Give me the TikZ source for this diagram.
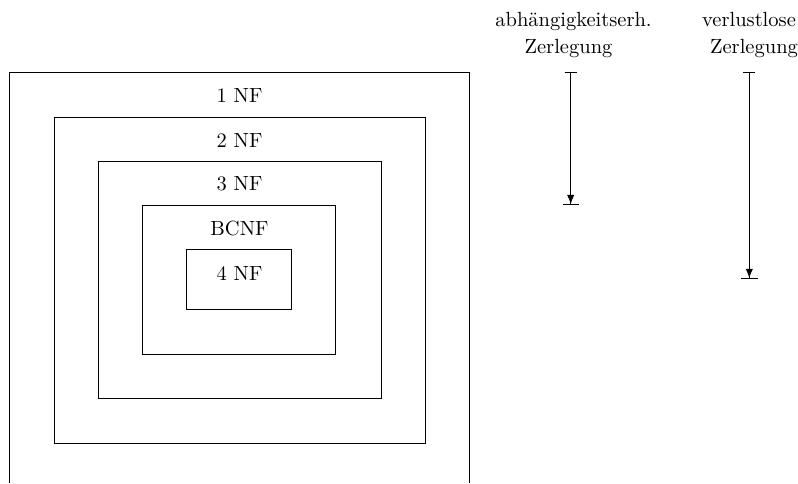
\documentclass[tikz,border=0pt]{standalone}
\usepackage{fontspec}
\usetikzlibrary{arrows.meta}

\begin{document}
\begin{tikzpicture}[x=0.01714cm, y=-0.01714cm, every node/.style={inner sep=0pt},
    zerl/.style={{Bar[width=6pt]}-{Latex[length=4.5pt,width=3.5pt]Bar[width=8pt]}}]
  \useasboundingbox (0,0) rectangle (798,483);
  % outer box, runs off the bottom
  \draw (9.5,483) -- (9.5,72) -- (469.5,72) -- (469.5,483);
  \foreach \l/\t/\r/\b in {54/117/425/443, 98/161/381/398, 142/205/335/354, 186/249/291/309}
    \draw (\l,\t) rectangle (\r,\b);
  \foreach \nm/\y/\lab in {nfone/95/1 NF, nftwo/140/2 NF, nfthree/184/3 NF, bcnf/228/BCNF, nffour/273/4 NF}
    \node (\nm) at (239.5,\y) {\lab};

  \node[anchor=base] (abh) at (573.5,26.7) {abhängigkeitserh.};
  \node[anchor=base] (abhZ) at (568.5,53.5) {Zerlegung};
  \node[anchor=base] (verl) at (749,26.7) {verlustlose};
  \node[anchor=base] (verlZ) at (754,53.5) {Zerlegung};

  \coordinate (abhTop) at (570.7,71.7);
  \coordinate (abhBot) at (570.7,205);
  \coordinate (verlTop) at (749.3,71.7);
  \coordinate (verlBot) at (749.3,279);
  \draw[zerl] (abhTop) -- (abhBot);
  \draw[zerl] (verlTop) -- (verlBot);
\end{tikzpicture}
\end{document}
